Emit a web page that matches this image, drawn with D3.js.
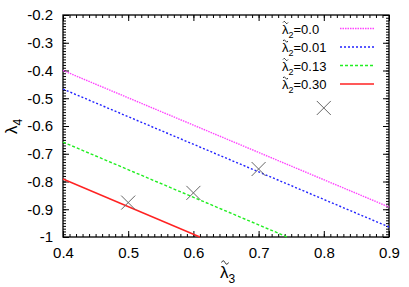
<!DOCTYPE html>
<html lang="en">
<head>
<meta charset="utf-8">
<script src="https://d3js.org/d3.v7.min.js"></script>
<style>
  body { margin: 0; background: #fff; }
  text { font-family: "Liberation Sans", Arial, sans-serif; }
</style>
</head>
<body>
<div id="chart"></div>
<script>
// line endpoints
const lam2Labels = ["0.0", "0.01", "0.13", "0.30"];
const lineColors = ["#ff44ff", "#2222ff", "#22ee22", "#ff2222"];
const lineDash = ["1.5,1", "2,2", "3,2", null];
const lineX = [[0.4, 0.9], [0.4, 0.9], [0.4, 0.744], [0.4, 0.61]];
const lineY = [[-0.4, -0.892], [-0.467, -0.964], [-0.658, -1.0], [-0.791, -1.0]];

// cross markers
const crossX = [0.5, 0.6, 0.7, 0.8];
const crossY = [-0.876, -0.841, -0.755, -0.535];

const xTicks = [0.4, 0.5, 0.6, 0.7, 0.8, 0.9];
const yTicks = [-0.2, -0.3, -0.4, -0.5, -0.6, -0.7, -0.8, -0.9, -1];

const W = 409, H = 287;
const margin = {top: 15, right: 20, bottom: 50, left: 63};
const width = W - margin.left - margin.right;
const height = H - margin.top - margin.bottom;

const svg = d3.select("#chart").append("svg")
    .attr("width", W).attr("height", H);
const g = svg.append("g")
    .attr("transform", `translate(${margin.left},${margin.top})`);

const x = d3.scaleLinear().domain([0.4, 0.9]).range([0, width]);
const y = d3.scaleLinear().domain([-1, -0.2]).range([height, 0]);

// minor ticks on all four sides
const xMinor = d3.range(40, 91).map(v => v / 100);
const yMinor = d3.range(-100, -19).map(v => v / 100);

g.append("g").call(d3.axisBottom(x).tickValues(xMinor).tickSize(-3).tickFormat(""))
    .attr("transform", `translate(0,${height})`);
g.append("g").call(d3.axisTop(x).tickValues(xMinor).tickSize(-3).tickFormat(""));
g.append("g").call(d3.axisLeft(y).tickValues(yMinor).tickSize(-3).tickFormat(""));
g.append("g").call(d3.axisRight(y).tickValues(yMinor).tickSize(-3).tickFormat(""))
    .attr("transform", `translate(${width},0)`);

// major ticks with labels
const xAxis = g.append("g").attr("transform", `translate(0,${height})`)
    .call(d3.axisBottom(x).tickValues(xTicks).tickSize(-6).tickPadding(10).tickFormat(d => +d.toFixed(1)));
const yAxis = g.append("g")
    .call(d3.axisLeft(y).tickValues(yTicks).tickSize(-6).tickPadding(10).tickFormat(d => +d.toFixed(1)));
g.append("g").call(d3.axisTop(x).tickValues(xTicks).tickSize(-6).tickFormat(""));
g.append("g").attr("transform", `translate(${width},0)`)
    .call(d3.axisRight(y).tickValues(yTicks).tickSize(-6).tickFormat(""));

g.selectAll(".domain").remove();
g.selectAll(".tick line").attr("stroke", "#000").attr("stroke-width", 1);
xAxis.selectAll("text").attr("font-size", 15).attr("fill", "#000");
yAxis.selectAll("text").attr("font-size", 15).attr("fill", "#000");

g.append("rect").attr("width", width).attr("height", height)
    .attr("fill", "none").attr("stroke", "#000").attr("stroke-width", 1.3);

// lines
const lineGroup = g.append("g");
lam2Labels.forEach((lab, i) => {
  const pts = lineX[i].map((v, j) => [x(v), y(lineY[i][j])]);
  lineGroup.append("path")
      .attr("d", d3.line()(pts))
      .attr("fill", "none")
      .attr("stroke", lineColors[i])
      .attr("stroke-width", 1.4)
      .attr("stroke-dasharray", lineDash[i]);
});

// crosses
const cs = 7;
crossX.forEach((v, i) => {
  const cx = x(v), cy = y(crossY[i]);
  g.append("path")
      .attr("d", `M${cx - cs},${cy - cs}L${cx + cs},${cy + cs}M${cx - cs},${cy + cs}L${cx + cs},${cy - cs}`)
      .attr("stroke", "#666").attr("stroke-width", 1).attr("fill", "none");
});

// small tilde drawn as a path above a lambda
function tilde(px, py, w) {
  const h = w / 4;
  svg.append("path")
      .attr("d", `M${px},${py}q${w / 4},${-h * 2} ${w / 2},0t${w / 2},0`)
      .attr("fill", "none").attr("stroke", "#000").attr("stroke-width", 0.8);
}

// legend
const legend = svg.append("g");
lam2Labels.forEach((lab, i) => {
  const ly = 28.5 + i * 18.5;
  const t = legend.append("text").attr("x", 282).attr("y", ly + 5)
      .attr("font-size", 13).attr("fill", "#000");
  t.append("tspan").text("λ");
  t.append("tspan").attr("font-size", 9).attr("dy", 4).text("2");
  t.append("tspan").attr("dy", -4).text("=" + lab);
  tilde(283, ly - 6, 5);
  legend.append("line")
      .attr("x1", 340).attr("x2", 374).attr("y1", ly).attr("y2", ly)
      .attr("stroke", lineColors[i]).attr("stroke-width", 1.4)
      .attr("stroke-dasharray", lineDash[i]);
});

// axis titles
const xt = svg.append("text").attr("x", 220).attr("y", 278).attr("font-size", 17);
xt.append("tspan").text("λ");
xt.append("tspan").attr("font-size", 12).attr("dy", 5).text("3");
tilde(221.5, 262.5, 7);

const yt = svg.append("text")
    .attr("transform", "translate(17,134) rotate(-90)")
    .attr("font-size", 17);
yt.append("tspan").text("λ");
yt.append("tspan").attr("font-size", 12).attr("dy", 5).text("4");
</script>
</body>
</html>
